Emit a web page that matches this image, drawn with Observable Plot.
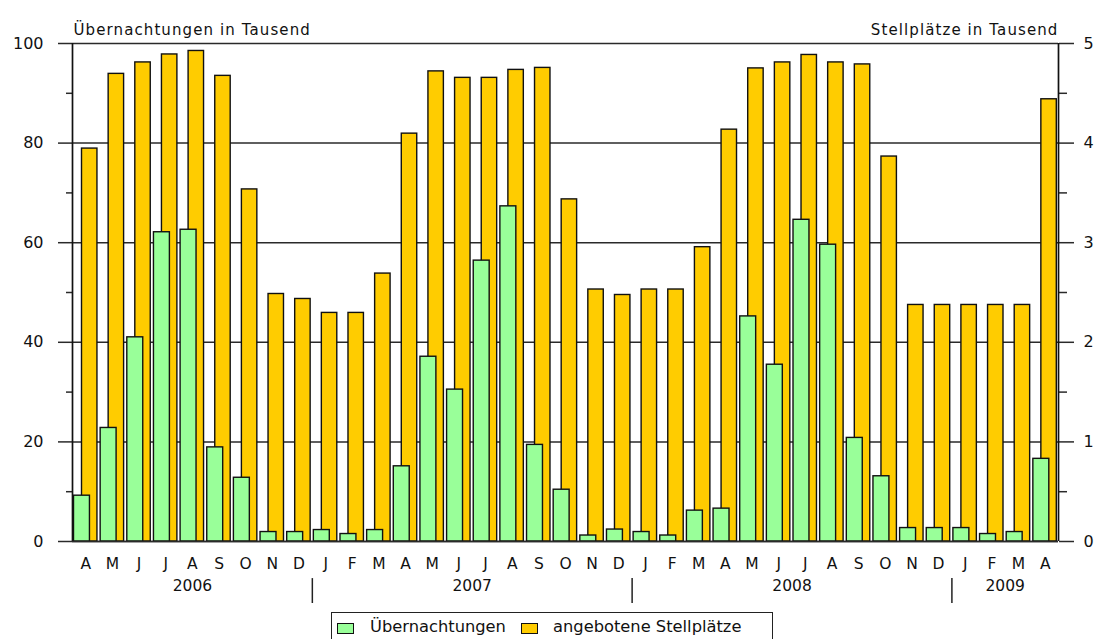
<!DOCTYPE html>
<html>
<head>
<meta charset="utf-8">
<script src="https://cdn.jsdelivr.net/npm/d3@7"></script>
<script src="https://cdn.jsdelivr.net/npm/@observablehq/plot@0.6"></script>
<style>
  html, body { margin: 0; padding: 0; background: #fff; }
  #wrap { position: relative; width: 1100px; height: 639px; overflow: hidden; font-family: "DejaVu Sans", sans-serif; }
  #legend { position: absolute; left: 331px; top: 612px; width: 442px; height: 40px; border: 1.5px solid #222; box-sizing: border-box; font-size: 16.3px; color: #111; }
  .sw { position: absolute; top: 10px; width: 17px; height: 11px; border: 1.3px solid #111; box-sizing: border-box; }
  .lt { position: absolute; top: 4px; white-space: nowrap; }
</style>
</head>
<body>
<div id="wrap">
  <div id="chart"></div>
  <div id="legend">
    <div class="sw" style="left:5px;background:#99ff99"></div>
    <div class="lt" style="left:38px">Übernachtungen</div>
    <div class="sw" style="left:189px;background:#ffcc00"></div>
    <div class="lt" style="left:221px">angebotene Stellplätze</div>
  </div>
</div>
<script>
// Monate April 2006 – April 2009
const monthLabels = ["A","M","J","J","A","S","O","N","D",
  "J","F","M","A","M","J","J","A","S","O","N","D",
  "J","F","M","A","M","J","J","A","S","O","N","D",
  "J","F","M","A"];
const yearLabels = ["2006","2007","2008","2009"];
const monthsPerYear = [9, 12, 12, 4];

// Übernachtungen in Tausend (linke Achse)
const uebernachtungen = [9.2, 22.8, 41.0, 62.1, 62.6, 18.9, 12.8, 1.9, 1.9,
  2.3, 1.5, 2.3, 15.1, 37.1, 30.5, 56.4, 67.3, 19.4, 10.4, 1.2, 2.4,
  1.9, 1.2, 6.2, 6.6, 45.2, 35.5, 64.6, 59.6, 20.8, 13.1, 2.7, 2.7,
  2.7, 1.5, 1.9, 16.6];

// angebotene Stellplätze in Tausend (rechte Achse)
const stellplaetze = [3.945, 4.695, 4.81, 4.89, 4.925, 4.675, 3.535, 2.485, 2.435,
  2.295, 2.295, 2.69, 4.095, 4.72, 4.655, 4.655, 4.735, 4.755, 3.435, 2.53, 2.475,
  2.53, 2.53, 2.955, 4.135, 4.75, 4.81, 4.885, 4.81, 4.79, 3.865, 2.375, 2.375,
  2.375, 2.375, 2.375, 4.44];

const leftTicks = [0, 20, 40, 60, 80, 100];
const minorTicks = [10, 30, 50, 70, 90];
const ratio = 20; // 100 Tsd. Übernachtungen  ≙  5 Tsd. Stellplätze
const leftTitle = "Übernachtungen in Tausend";
const rightTitle = "Stellplätze in Tausend";

const data = monthLabels.map((m, i) => ({
  i, month: m, ueb: uebernachtungen[i], stell: stellplaetze[i]
}));

let start = 0;
const years = yearLabels.map((y, k) => {
  const s = start; start += monthsPerYear[k];
  return {year: y, start: s, end: start, center: (s + start) / 2};
});
const boundaries = years.slice(1).map(d => d.start);

const chart = Plot.plot({
  width: 1100,
  height: 608,
  marginLeft: 72,
  marginRight: 42,
  marginTop: 43,
  marginBottom: 67,
  style: {fontFamily: "DejaVu Sans, sans-serif", fontSize: "15.5px", color: "#111", background: "#fff"},
  x: {type: "linear", domain: [0, monthLabels.length], axis: null},
  y: {domain: [0, 100], axis: null},
  marks: [
    Plot.ruleY(leftTicks, {stroke: "#2a2a2a", strokeWidth: 1.5}),
    Plot.axisY({ticks: leftTicks, anchor: "left", tickSize: 14, tickPadding: 15, stroke: "#2a2a2a", strokeWidth: 1.5, fontSize: 16, fill: "#111"}),
    Plot.axisY({ticks: leftTicks, anchor: "right", tickSize: 15, tickPadding: 10, tickFormat: d => d / ratio, stroke: "#2a2a2a", strokeWidth: 1.5, fontSize: 16, fill: "#111"}),
    Plot.axisY({ticks: minorTicks, anchor: "left", tickSize: 6, tickFormat: () => "", stroke: "#2a2a2a", strokeWidth: 1.5}),
    Plot.axisY({ticks: minorTicks, anchor: "right", tickSize: 8, tickFormat: () => "", stroke: "#2a2a2a", strokeWidth: 1.5}),
    Plot.rectY(data, {x1: d => d.i, x2: d => d.i + 1, y1: 0, y2: d => d.stell * ratio,
      insetLeft: 9.5, insetRight: 1.7, fill: "#ffcc00", stroke: "#111", strokeWidth: 1.4}),
    Plot.rectY(data, {x1: d => d.i, x2: d => d.i + 1, y1: 0, y2: d => d.ueb,
      insetLeft: 1.5, insetRight: 9.2, fill: "#99ff99", stroke: "#111", strokeWidth: 1.4}),
    Plot.ruleX([0, monthLabels.length], {stroke: "#111", strokeWidth: 1.7}),
    Plot.ruleY([0], {stroke: "#2a2a2a", strokeWidth: 1.5}),
    Plot.text(data, {x: d => d.i + 0.5, text: "month", frameAnchor: "bottom", dy: 27, fill: "#111", fontSize: 15.5}),
    Plot.text(years, {x: "center", text: "year", frameAnchor: "bottom", dy: 49, fill: "#111", fontSize: 15.5}),
    Plot.ruleX(boundaries, {y1: 0, y2: 5, dy: 62, stroke: "#222", strokeWidth: 1.5}),
    Plot.text([leftTitle], {frameAnchor: "top-left", textAnchor: "start", dx: 1, dy: -19, fill: "#111", fontSize: 15}),
    Plot.text([rightTitle], {frameAnchor: "top-right", textAnchor: "end", dx: 0, dy: -19, fill: "#111", fontSize: 15})
  ]
});
d3.select(chart).selectAll("text")
  .filter(function() { return this.textContent === leftTitle || this.textContent === rightTitle; })
  .attr("letter-spacing", "1.1px");
document.getElementById("chart").appendChild(chart);
</script>
</body>
</html>
